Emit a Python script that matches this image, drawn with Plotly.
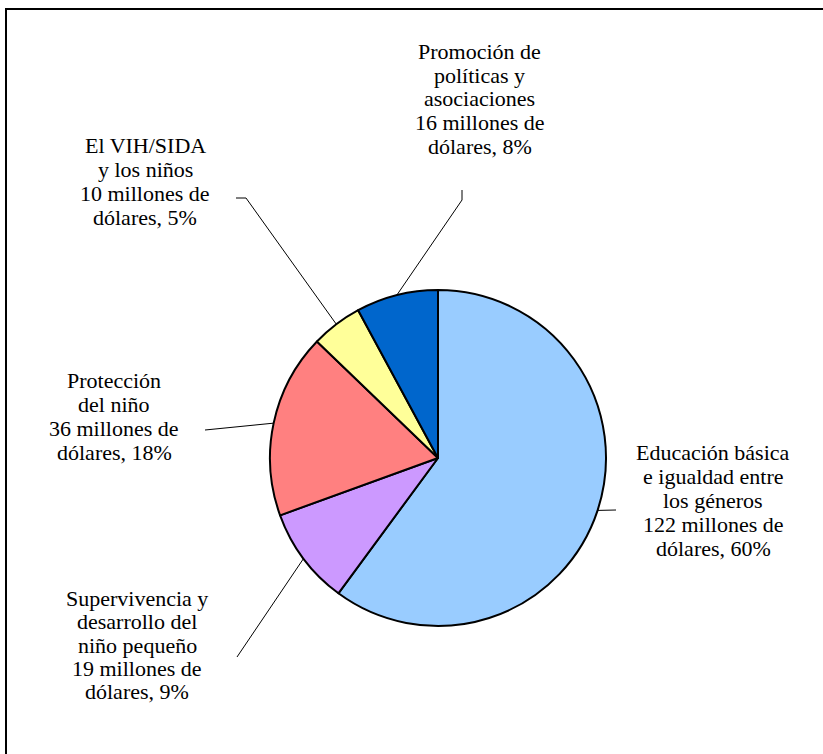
import math
import plotly.graph_objects as go

W, H = 823, 754

categorias = [
    ["Educación básica", "e igualdad entre", "los géneros"],
    ["Supervivencia y", "desarrollo del", "niño pequeño"],
    ["Protección", "del niño"],
    ["El VIH/SIDA", "y los niños"],
    ["Promoción de", "políticas y", "asociaciones"],
]
valores = [122, 19, 36, 10, 16]
porcentajes = [60, 9, 18, 5, 8]
colores = ["#99CCFF", "#CC99FF", "#FF8080", "#FFFF99", "#0066CC"]

# layout (pixels): pie centre & radius, label centre x / first baseline / spacing
cx, cy, R = 438, 458, 168
label_x = [713, 137, 114, 145, 480]
label_y0 = [459, 605, 387, 152, 58]
line_gap = [24, 23.3, 24, 24, 23.75]
FS = 22
leader_end = [
    [(616, 510)],
    [(237, 657)],
    [(205, 430)],
    [(246, 198), (236, 198)],
    [(462, 200), (462, 190)],
]

def px(x):
    return x / W

def py(y):
    return 1 - y / H

fig = go.Figure()
fig.add_trace(go.Pie(
    labels=[" ".join(c) for c in categorias],
    values=valores,
    sort=False,
    direction="clockwise",
    rotation=0,
    textinfo="none",
    hoverinfo="label+value+percent",
    marker=dict(colors=colores, line=dict(color="black", width=2)),
    domain=dict(x=[px(cx - R), px(cx + R)], y=[py(cy + R), py(cy - R)]),
    showlegend=False,
))

total = sum(valores)
shapes = []
annotations = []
cum = 0
for i, v in enumerate(valores):
    mid = (cum + v / 2) / total * 2 * math.pi
    cum += v
    sx = cx + R * math.sin(mid)
    sy = cy - R * math.cos(mid)
    pts = [(sx, sy)] + leader_end[i]
    path = "M " + " L ".join(f"{px(x)},{py(y)}" for x, y in pts)
    shapes.append(dict(type="path", xref="paper", yref="paper", path=path,
                       line=dict(color="black", width=1)))
    lines = categorias[i] + [f"{v} millones de", f"dólares, {porcentajes[i]}%"]
    for k, t in enumerate(lines):
        base = label_y0[i] + k * line_gap[i]
        annotations.append(dict(
            x=px(label_x[i]), y=py(base - 0.3 * FS), xref="paper", yref="paper",
            text=t, showarrow=False, xanchor="center", yanchor="middle",
            font=dict(family="Liberation Serif", size=FS, color="black"),
        ))

# outer frame (only top and left edges visible in the picture)
shapes.append(dict(type="rect", xref="paper", yref="paper",
                   x0=px(6), x1=1.05, y0=-0.05, y1=py(9),
                   line=dict(color="black", width=2), fillcolor="rgba(0,0,0,0)"))

fig.update_layout(
    width=W, height=H,
    margin=dict(l=0, r=0, t=0, b=0),
    paper_bgcolor="white", plot_bgcolor="white",
    shapes=shapes, annotations=annotations,
)

fig.write_html("out.html",
               config={"displayModeBar": False},
               post_script="document.body.style.margin='0px';document.body.style.overflow='hidden';")
